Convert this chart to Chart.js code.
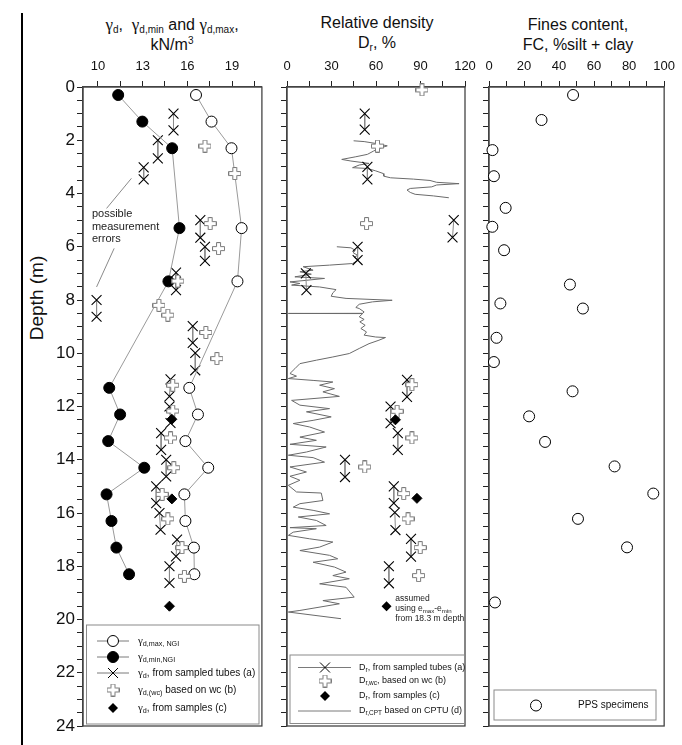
<!DOCTYPE html>
<html>
<head>
<meta charset="utf-8">
<title>Dry unit weight, relative density and fines content profiles</title>
<script src="https://cdn.jsdelivr.net/npm/chart.js@4.4.1/dist/chart.umd.min.js"></script>
<style>
  body { margin: 0; background: #fff; }
  #page { position: relative; width: 682px; height: 745px; overflow: hidden;
    font-family: 'Liberation Sans', Arial, sans-serif; color: #111; }
  canvas { position: absolute; top: 0; }
  .title { position: absolute; text-align: center; font-size: 16px; line-height: 20px;
    white-space: nowrap; transform: translateX(-50%); }
  .g { font-family: 'Liberation Serif', 'Times New Roman', serif; font-size: 17px; }
  .title sub { font-size: 10px; vertical-align: -3px; line-height: 0; }
  .title sup { font-size: 10px; vertical-align: 6px; line-height: 0; }
  #depth { position: absolute; left: 37px; top: 298px; font-size: 19px; white-space: nowrap;
    transform: translate(-50%, -50%) rotate(-90deg); }
  #rule { position: absolute; left: 21px; top: 13px; width: 1.5px; height: 732px; background: #000; }
</style>
</head>
<body>
<div id="page">
  <div id="rule"></div>
  <div class="title" style="left:172px;top:15px"><span class="g">γ</span><sub>d</sub>,&nbsp; <span class="g">γ</span><sub>d,min</sub> and <span class="g">γ</span><sub>d,max</sub>,<br>kN/m<sup>3</sup></div>
  <div class="title" style="left:377px;top:13px">Relative density<br>D<sub>r</sub>, %</div>
  <div class="title" style="left:578px;top:15px">Fines content,<br>FC, %silt + clay</div>
  <div id="depth">Depth (m)</div>
  <canvas id="gamma" width="270" height="745" style="left:0"></canvas>
  <canvas id="density" width="222" height="745" style="left:270px"></canvas>
  <canvas id="fines" width="210" height="745" style="left:472px"></canvas>
</div>
<script>
// --- axes
const depthLabels = [0, 2, 4, 6, 8, 10, 12, 14, 16, 18, 20, 22, 24];
const gammaLabels = [10, 13, 16, 19];
const drLabels = [0, 30, 60, 90, 120];
const fcLabels = [0, 20, 40, 60, 80, 100];

// --- panel 1: dry unit weight, kN/m3
const ngiDepth = [0.3, 1.3, 2.3, 5.3, 7.3, 11.3, 12.3, 13.3, 14.3, 15.3, 16.3, 17.3, 18.3];
const gammaMaxNgi = [16.58, 17.62, 18.96, 19.64, 19.36, 16.13, 16.71, 15.87, 17.4, 15.8, 15.87, 16.44, 16.47];
const gammaMinNgi = [11.36, 12.98, 14.98, 15.47, 14.73, 10.76, 11.49, 10.69, 13.11, 10.58, 10.91, 11.24, 12.09];

const tubeDepth = [1.0, 1.63, 2.0, 2.68, 3.02, 3.47, 5.0, 5.66, 6.0, 6.53, 6.97, 7.63, 8.0, 8.63,
  8.98, 9.61, 9.99, 10.64, 10.98, 11.62, 12.0, 12.62, 13.0, 13.63, 14.0, 14.63, 15.0, 15.63,
  16.0, 16.63, 17.0, 17.63, 18.0, 18.63];
const gammaTubes = [15.07, 15.07, 14.02, 14.02, 13.07, 13.07, 16.87, 16.87, 17.18, 17.18, 15.24, 15.24, 9.91, 9.91,
  16.36, 16.36, 16.53, 16.53, 14.87, 14.8, 14.8, 14.87, 14.24, 14.24, 14.58, 14.58, 13.91, 13.91,
  14.13, 14.2, 15.31, 15.24, 14.8, 14.8];

const wcDepth = [2.22, 3.25, 5.13, 6.07, 7.29, 8.2, 8.57, 9.22, 10.2, 11.2, 12.17, 13.18, 14.3, 15.3, 16.22, 17.3, 18.38];
const gammaWc = [17.18, 19.18, 17.53, 18.09, 15.36, 14.09, 14.69, 17.24, 17.98, 15.02, 15.02, 14.87, 15.09, 14.31, 14.69, 15.64, 15.8];

const sampleDepth = [12.48, 15.47, 19.5];
const gammaSamples = [14.96, 14.96, 14.8];

// --- panel 2: relative density, %
const drTubeDepth = [1.0, 1.6, 3.0, 3.47, 5.0, 5.65, 6.0, 6.5, 7.0, 7.63, 11.0, 11.64, 12.0, 12.63,
  13.0, 13.63, 14.0, 14.65, 15.0, 15.63, 15.98, 16.64, 16.97, 17.64, 18.0, 18.64];
const drTubes = [52.4, 52.4, 54.2, 54.2, 112.4, 111.6, 47.6, 47.6, 12.7, 13.1, 80.9, 80.9, 69.8, 69.8,
  74.7, 74.7, 39.1, 39.1, 72, 72, 72.7, 73.1, 83.6, 83.6, 68.7, 68.7];

const drWcDepth = [0.11, 1.4, 2.22, 5.13, 11.18, 12.18, 13.18, 14.27, 15.27, 16.22, 17.3, 18.35];
const drWc = [91, 130, 61, 53.6, 84.2, 74.2, 84.2, 52.4, 78.7, 81.6, 89.8, 88.7];

const drSampleDepth = [12.5, 15.45];
const drSamples = [73.1, 87.6];

const cptDepth = [2.02, 2.05, 2.12, 2.21, 2.31, 2.41, 2.53, 2.62, 2.72, 2.78, 2.87, 2.93, 3.03, 3.06, 3.15,
  3.25, 3.35, 3.41, 3.46, 3.51, 3.58, 3.63, 3.68, 3.75, 3.81, 3.87, 3.96, 4.03, 4.09, 4.16, null,
  6.0, 6.04, 6.13, 6.23, 6.32, 6.4, 6.5, 6.63, 6.69, 6.75, 6.88, 6.94, 7.03, 7.13, 7.19, 7.26, 7.32,
  7.38, 7.44, 7.51, 7.61, 7.73, 7.86, 7.94, 8.01, 8.07, 8.16, 8.28, 8.32, 8.45, 8.5, 8.505, 8.51,
  8.63, 8.73, 8.82, 8.95, 9.07, 9.2, 9.32, 9.39, 9.41, 9.51, 9.64, 9.82, 10.01, 10.14, 10.26, 10.39,
  10.58, 10.76, 10.86, 10.95, 11.02, 11.08, 11.2, 11.33, 11.45, 11.62, 11.77, 11.95, 12.08, 12.2,
  12.39, 12.52, 12.64, 12.77, 12.96, 13.15, 13.27, 13.42, 13.52, 13.71, 13.83, 13.92, 14.09, 14.27,
  14.46, 14.62, 14.77, 14.96, 15.21, 15.25, 15.53, 15.65, 15.78, 15.9, 16.03, 16.15, 16.28, 16.47,
  16.55, 16.59, 16.72, 16.84, 16.97, 17.09, 17.28, 17.41, 17.59, 17.72, 17.85, 18.03, 18.22, 18.35,
  18.47, 18.66, 18.79, 19.16, 19.29, 19.41, 19.66, 19.72, 19.97];
const cptDr = [44.9, 52, 59.8, 67.6, 62, 58.2, 54.2, 46.4, 36.9, 43.1, 55.3, 48.7, 44.2, 54.2, 59.8,
  64.9, 65.3, 69.8, 85.3, 96.4, 100.9, 116, 100.9, 97.6, 83.1, 80.9, 83.1, 86.4, 98.7, 109.1, null,
  33.6, 43.1, 46, 44.7, 47.6, 45.3, 48.2, 44.2, 28.7, 10.9, 17.6, 8.7, 16.4, 5.3, 25.3, 13.1, 2,
  8.7, 3.1, 22, 33.1, 30.9, 29.8, 39.8, 70.9, 57.6, 48.7, 46.4, 48.7, 52, 51, 0.9, 51,
  48.7, 52, 49.1, 52.7, 49.8, 53.6, 52, 59.8, 66.4, 62, 55.3, 48.7, 42, 30.9, 19.8, 8.7,
  5.3, 2, 6.4, 0.9, 17.6, 30.9, 22, 32, 24.2, 35.3, 3.1, 8.7, 28.7, 13.1,
  29.8, 17.6, 4.2, 15.3, 25.3, 8.7, 19.8, 2, 26.4, 13.1, 0.9, 17.6, 25.3, 2,
  13.1, 2, 8.7, 0.9, 6.4, 23.1, 24.2, 8.7, 4.2, 17.6, 28.7, 7.6, 19.8, 26.4,
  2, 19.8, 4.2, 0.9, 15.3, 30.9, 22, 8.7, 28.7, 34.2, 17.6, 32, 39.8, 30.9,
  42, 22, 39.8, 45.3, 24.2, 35.3, 8.7, 0.9, 36.4];

// --- panel 3: fines content, %
const fcDepth = [0.3, 1.24, 2.37, 3.35, 4.54, 5.25, 6.13, 7.42, 8.13, 8.32, 9.42, 10.33, 11.43, 12.37,
  13.33, 14.25, 15.27, 16.22, 17.29, 19.36];
const finesContent = [48, 30, 2, 2.8, 9.5, 1.9, 8.6, 46.2, 6.5, 53.6, 4.3, 2.8, 47.7, 22.9,
  32, 71.7, 93.8, 50.8, 78.8, 3.4];

const SANS = "'Liberation Sans', Arial, sans-serif";
const SERIF = "'Liberation Serif', 'Times New Roman', serif";

const stepTicks = (from, to, step) => {
  const out = [];
  for (let v = from; v <= to + 1e-9; v += step) out.push(+v.toFixed(2));
  return out;
};
const depthTicks = stepTicks(0, 24, 0.5);

const toPoints = (values, depths) =>
  values.map((v, i) => (v === null ? { x: null, y: null } : { x: v, y: depths[i] }));

// tube samples are drawn as top/bottom pairs joined by a line
const pairPoints = (values, depths) => {
  const out = [];
  values.forEach((v, i) => {
    out.push({ x: v, y: depths[i] });
    if (i % 2 === 1) out.push({ x: null, y: null });
  });
  return out;
};

const makePlus = (size, arm) => {
  const c = document.createElement('canvas');
  c.width = c.height = size;
  const g = c.getContext('2d');
  const a = (size - arm) / 2 + 0.5, b = a + arm - 1, o = 0.5, s = size - 0.5;
  g.beginPath();
  [[a, o], [b, o], [b, a], [s, a], [s, b], [b, b], [b, s], [a, s], [a, b], [o, b], [o, a], [a, a]]
    .forEach(([px, py], i) => (i ? g.lineTo(px, py) : g.moveTo(px, py)));
  g.closePath();
  g.fillStyle = '#fff';
  g.fill();
  g.strokeStyle = '#7a7a7a';
  g.lineWidth = 1;
  g.stroke();
  return c;
};
const plusImg = makePlus(13, 5);

const drawMarker = (ctx, kind, x, y) => {
  ctx.save();
  ctx.lineWidth = 1;
  ctx.strokeStyle = '#000';
  ctx.fillStyle = '#000';
  ctx.beginPath();
  if (kind === 'open' || kind === 'filled') {
    ctx.arc(x, y, 5.5, 0, Math.PI * 2);
    ctx.fillStyle = kind === 'open' ? '#fff' : '#000';
    ctx.fill();
    ctx.stroke();
  } else if (kind === 'x') {
    ctx.moveTo(x - 5, y - 5); ctx.lineTo(x + 5, y + 5);
    ctx.moveTo(x + 5, y - 5); ctx.lineTo(x - 5, y + 5);
    ctx.stroke();
  } else if (kind === 'plus') {
    ctx.drawImage(plusImg, x - plusImg.width / 2, y - plusImg.height / 2);
  } else if (kind === 'diamond') {
    ctx.moveTo(x, y - 5); ctx.lineTo(x + 5, y); ctx.lineTo(x, y + 5); ctx.lineTo(x - 5, y);
    ctx.closePath();
    ctx.fill();
  }
  ctx.restore();
};

// text with subscripts: parts are [text, kind] with kind '' | 'g' (greek) | 's' (subscript)
const drawRich = (ctx, x, y, parts, size) => {
  let cx = x;
  parts.forEach(([t, kind]) => {
    const fs = kind === 's' ? size * 0.72 : kind === 'g' ? size * 1.1 : size;
    ctx.font = `${fs}px ${kind === 'g' ? SERIF : SANS}`;
    ctx.fillText(t, cx, y + (kind === 's' ? size * 0.3 : 0));
    cx += ctx.measureText(t).width;
  });
};

const chartAreaBorder = {
  id: 'chartAreaBorder',
  beforeDatasetsDraw(chart, args, options) {
    const { ctx, chartArea: { left, top, width, height } } = chart;
    ctx.save();
    ctx.strokeStyle = options.borderColor;
    ctx.lineWidth = options.borderWidth;
    ctx.strokeRect(left, top, width, height);
    ctx.restore();
  },
};

const legendPlugin = (spec) => ({
  id: 'boxLegend',
  afterDraw(chart) {
    const { ctx } = chart;
    const ox = spec.offsetX;
    const [l, t, r, b] = spec.box;
    ctx.save();
    ctx.fillStyle = '#fff';
    ctx.fillRect(l - ox, t, r - l, b - t);
    ctx.strokeStyle = '#8a8a8a';
    ctx.lineWidth = 1;
    ctx.strokeRect(l - ox, t, r - l, b - t);
    spec.rows.forEach((row) => {
      if (row.line) {
        ctx.strokeStyle = '#7a7a7a';
        ctx.beginPath();
        ctx.moveTo(row.line[0] - ox, row.y);
        ctx.lineTo(row.line[1] - ox, row.y);
        ctx.stroke();
      }
      if (row.marker) drawMarker(ctx, row.marker, spec.markerX - ox, row.y);
      ctx.fillStyle = '#111';
      ctx.textBaseline = 'middle';
      ctx.textAlign = 'left';
      drawRich(ctx, spec.textX - ox, row.y, row.text, spec.size);
    });
    ctx.restore();
  },
});

const makePanel = (id, cfg) =>
  new Chart(document.getElementById(id), {
    type: 'scatter',
    data: { datasets: cfg.datasets },
    plugins: [chartAreaBorder, ...cfg.plugins],
    options: {
      responsive: false,
      animation: false,
      events: [],
      layout: { padding: { left: 0, right: cfg.padRight, top: 0, bottom: 19 } },
      plugins: {
        legend: { display: false },
        tooltip: { enabled: false },
        chartAreaBorder: { borderColor: '#444', borderWidth: 1.3 },
      },
      scales: {
        x: {
          type: 'linear',
          position: 'top',
          min: cfg.xMin,
          max: cfg.xMax,
          afterBuildTicks: (axis) => { axis.ticks = cfg.xTicks.map((v) => ({ value: v })); },
          afterFit: (axis) => { axis.height = 87; },
          ticks: {
            autoSkip: false,
            maxRotation: 0,
            padding: 7,
            color: '#111',
            font: { family: SANS, size: 13 },
            callback: (v) => (cfg.xLabels.includes(v) ? String(v) : ''),
          },
          grid: { drawOnChartArea: false, tickLength: 6, color: '#222' },
          border: { color: '#444', width: 1.3 },
        },
        y: {
          type: 'linear',
          reverse: true,
          min: 0,
          max: 24,
          afterBuildTicks: (axis) => { axis.ticks = depthTicks.map((v) => ({ value: v })); },
          afterFit: (axis) => { axis.width = cfg.yWidth; },
          ticks: {
            autoSkip: false,
            padding: 2,
            color: '#111',
            font: { family: SANS, size: 17 },
            callback: (v) => (cfg.depthText && depthLabels.includes(v) ? String(v) : ''),
          },
          grid: { drawOnChartArea: false, tickLength: 6, color: '#222' },
          border: { color: '#444', width: 1.3 },
        },
      },
    },
  });

// notes drawn in data units
const gammaNote = {
  id: 'gammaNote',
  afterDatasetsDraw(chart) {
    const { ctx, scales: { x, y } } = chart;
    ctx.save();
    ctx.strokeStyle = '#8a8a8a';
    ctx.lineWidth = 1;
    [[12.25, 3.43, 10.58, 4.56], [11.09, 6.06, 9.91, 7.51]].forEach(([a, b, c, d]) => {
      ctx.beginPath();
      ctx.moveTo(x.getPixelForValue(a), y.getPixelForValue(b));
      ctx.lineTo(x.getPixelForValue(c), y.getPixelForValue(d));
      ctx.stroke();
    });
    ctx.fillStyle = '#222';
    ctx.font = `11px ${SANS}`;
    ctx.textBaseline = 'middle';
    [['possible', 4.77], ['measurement', 5.24], ['errors', 5.69]].forEach(([t, d]) => {
      ctx.fillText(t, x.getPixelForValue(9.6), y.getPixelForValue(d));
    });
    ctx.restore();
  },
};

const densityNote = {
  id: 'densityNote',
  afterDatasetsDraw(chart) {
    const { ctx, scales: { x, y } } = chart;
    ctx.save();
    drawMarker(ctx, 'diamond', x.getPixelForValue(67.1), y.getPixelForValue(19.5));
    ctx.fillStyle = '#222';
    ctx.textBaseline = 'middle';
    const tx = x.getPixelForValue(73);
    drawRich(ctx, tx, y.getPixelForValue(19.2), [['assumed', '']], 8.5);
    drawRich(ctx, tx, y.getPixelForValue(19.58), [['using e', ''], ['max', 's'], ['-e', ''], ['min', 's']], 8.5);
    drawRich(ctx, tx, y.getPixelForValue(19.97), [['from 18.3 m depth', '']], 8.5);
    ctx.restore();
  },
};

const openCircle = { pointStyle: 'circle', pointRadius: 5.5, pointBackgroundColor: '#fff', pointBorderColor: '#000', pointBorderWidth: 1 };
const crossMark = { pointStyle: 'crossRot', pointRadius: 7, pointBorderColor: '#000', pointBorderWidth: 1.1 };
const diamondMark = { pointStyle: 'rectRot', pointRadius: 5, pointBackgroundColor: '#000', pointBorderColor: '#000', pointBorderWidth: 1 };

makePanel('gamma', {
  xMin: 9, xMax: 21, xTicks: stepTicks(10, 20.5, 1.5), xLabels: gammaLabels,
  yWidth: 83, padRight: 7, depthText: true,
  datasets: [
    { data: toPoints(gammaMaxNgi, ngiDepth), showLine: true, borderColor: '#9a9a9a', borderWidth: 1, clip: false, order: 2, ...openCircle },
    { data: toPoints(gammaMinNgi, ngiDepth), showLine: true, borderColor: '#9a9a9a', borderWidth: 1, clip: false, order: 2,
      ...openCircle, pointBackgroundColor: '#000' },
    { data: pairPoints(gammaTubes, tubeDepth), showLine: true, spanGaps: false, borderColor: '#8a8a8a', borderWidth: 1, clip: false, order: 3, ...crossMark },
    { data: toPoints(gammaWc, wcDepth), pointStyle: plusImg, clip: false, order: 1 },
    { data: toPoints(gammaSamples, sampleDepth), clip: false, order: 0, ...diamondMark },
  ],
  plugins: [gammaNote, legendPlugin({
    offsetX: 0, box: [86.5, 625, 259, 724], markerX: 113, textX: 138, size: 10,
    rows: [
      { y: 641, line: [97, 129], marker: 'open', text: [['γ', 'g'], ['d,max, NGI', 's']] },
      { y: 657, line: [97, 129], marker: 'filled', text: [['γ', 'g'], ['d,min,NGI', 's']] },
      { y: 673, line: [97, 129], marker: 'x', text: [['γ', 'g'], ['d', 's'], [', from sampled tubes (a)', '']] },
      { y: 690, marker: 'plus', text: [['γ', 'g'], ['d,(wc)', 's'], [' based on wc (b)', '']] },
      { y: 708, marker: 'diamond', text: [['γ', 'g'], ['d', 's'], [', from samples (c)', '']] },
    ],
  })],
});

makePanel('density', {
  xMin: 0, xMax: 120, xTicks: stepTicks(0, 120, 15), xLabels: drLabels,
  yWidth: 17, padRight: 27, depthText: false,
  datasets: [
    { data: toPoints(cptDr, cptDepth), showLine: true, spanGaps: false, borderColor: '#6a6a6a', borderWidth: 1,
      pointRadius: 0, clip: false, order: 4 },
    { data: pairPoints(drTubes, drTubeDepth), showLine: true, spanGaps: false, borderColor: '#8a8a8a', borderWidth: 1, clip: false, order: 3, ...crossMark },
    { data: toPoints(drWc, drWcDepth), pointStyle: plusImg, clip: false, order: 1 },
    { data: toPoints(drSamples, drSampleDepth), clip: false, order: 0, ...diamondMark },
  ],
  plugins: [densityNote, legendPlugin({
    offsetX: 270, box: [290, 655, 464.5, 723.5], markerX: 325, textX: 359, size: 9,
    rows: [
      { y: 667.5, line: [298, 351], marker: 'x', text: [['D', ''], ['r', 's'], [', from sampled tubes (a)', '']] },
      { y: 681, marker: 'plus', text: [['D', ''], ['r,wc', 's'], [', based on wc (b)', '']] },
      { y: 696, marker: 'diamond', text: [['D', ''], ['r', 's'], [', from samples (c)', '']] },
      { y: 711, line: [298, 351], text: [['D', ''], ['r,CPT', 's'], [' based on CPTU (d)', '']] },
    ],
  })],
});

makePanel('fines', {
  xMin: 0, xMax: 100, xTicks: stepTicks(0, 100, 10), xLabels: fcLabels,
  yWidth: 17, padRight: 14, depthText: false,
  datasets: [
    { data: toPoints(finesContent, fcDepth), clip: false, ...openCircle },
  ],
  plugins: [legendPlugin({
    offsetX: 472, box: [494, 690, 656, 720], markerX: 536, textX: 578, size: 10,
    rows: [{ y: 705.5, marker: 'open', text: [['PPS specimens', '']] }],
  })],
});
</script>
</body>
</html>
